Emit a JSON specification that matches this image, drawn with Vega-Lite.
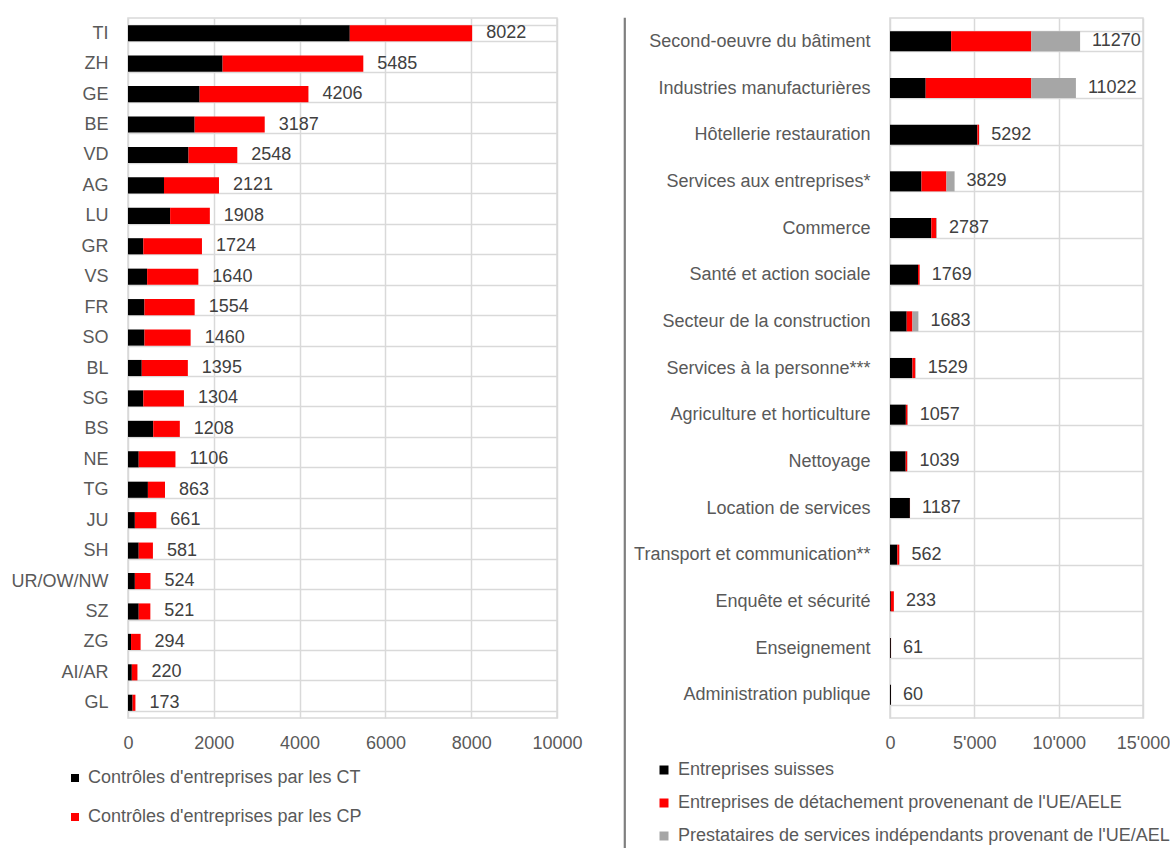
{
  "$schema": "https://vega.github.io/schema/vega-lite/v6.json",
  "padding": {"left": 10, "top": 8, "right": 0, "bottom": 0},
  "background": "white",
  "datasets": {
    "cantons": [
      {"canton": "TI", "type": "Contrôles d'entreprises par les CT", "n": 5170},
      {"canton": "TI", "type": "Contrôles d'entreprises par les CP", "n": 2852},
      {"canton": "ZH", "type": "Contrôles d'entreprises par les CT", "n": 2205},
      {"canton": "ZH", "type": "Contrôles d'entreprises par les CP", "n": 3280},
      {"canton": "GE", "type": "Contrôles d'entreprises par les CT", "n": 1670},
      {"canton": "GE", "type": "Contrôles d'entreprises par les CP", "n": 2536},
      {"canton": "BE", "type": "Contrôles d'entreprises par les CT", "n": 1554},
      {"canton": "BE", "type": "Contrôles d'entreprises par les CP", "n": 1633},
      {"canton": "VD", "type": "Contrôles d'entreprises par les CT", "n": 1411},
      {"canton": "VD", "type": "Contrôles d'entreprises par les CP", "n": 1137},
      {"canton": "AG", "type": "Contrôles d'entreprises par les CT", "n": 839},
      {"canton": "AG", "type": "Contrôles d'entreprises par les CP", "n": 1282},
      {"canton": "LU", "type": "Contrôles d'entreprises par les CT", "n": 982},
      {"canton": "LU", "type": "Contrôles d'entreprises par les CP", "n": 926},
      {"canton": "GR", "type": "Contrôles d'entreprises par les CT", "n": 357},
      {"canton": "GR", "type": "Contrôles d'entreprises par les CP", "n": 1367},
      {"canton": "VS", "type": "Contrôles d'entreprises par les CT", "n": 446},
      {"canton": "VS", "type": "Contrôles d'entreprises par les CP", "n": 1194},
      {"canton": "FR", "type": "Contrôles d'entreprises par les CT", "n": 384},
      {"canton": "FR", "type": "Contrôles d'entreprises par les CP", "n": 1170},
      {"canton": "SO", "type": "Contrôles d'entreprises par les CT", "n": 384},
      {"canton": "SO", "type": "Contrôles d'entreprises par les CP", "n": 1076},
      {"canton": "BL", "type": "Contrôles d'entreprises par les CT", "n": 321},
      {"canton": "BL", "type": "Contrôles d'entreprises par les CP", "n": 1074},
      {"canton": "SG", "type": "Contrôles d'entreprises par les CT", "n": 357},
      {"canton": "SG", "type": "Contrôles d'entreprises par les CP", "n": 947},
      {"canton": "BS", "type": "Contrôles d'entreprises par les CT", "n": 588},
      {"canton": "BS", "type": "Contrôles d'entreprises par les CP", "n": 620},
      {"canton": "NE", "type": "Contrôles d'entreprises par les CT", "n": 250},
      {"canton": "NE", "type": "Contrôles d'entreprises par les CP", "n": 856},
      {"canton": "TG", "type": "Contrôles d'entreprises par les CT", "n": 464},
      {"canton": "TG", "type": "Contrôles d'entreprises par les CP", "n": 399},
      {"canton": "JU", "type": "Contrôles d'entreprises par les CT", "n": 160},
      {"canton": "JU", "type": "Contrôles d'entreprises par les CP", "n": 501},
      {"canton": "SH", "type": "Contrôles d'entreprises par les CT", "n": 250},
      {"canton": "SH", "type": "Contrôles d'entreprises par les CP", "n": 331},
      {"canton": "UR/OW/NW", "type": "Contrôles d'entreprises par les CT", "n": 160},
      {"canton": "UR/OW/NW", "type": "Contrôles d'entreprises par les CP", "n": 364},
      {"canton": "SZ", "type": "Contrôles d'entreprises par les CT", "n": 250},
      {"canton": "SZ", "type": "Contrôles d'entreprises par les CP", "n": 271},
      {"canton": "ZG", "type": "Contrôles d'entreprises par les CT", "n": 71},
      {"canton": "ZG", "type": "Contrôles d'entreprises par les CP", "n": 223},
      {"canton": "AI/AR", "type": "Contrôles d'entreprises par les CT", "n": 89},
      {"canton": "AI/AR", "type": "Contrôles d'entreprises par les CP", "n": 131},
      {"canton": "GL", "type": "Contrôles d'entreprises par les CT", "n": 107},
      {"canton": "GL", "type": "Contrôles d'entreprises par les CP", "n": 66}
    ],
    "branches": [
      {"branche": "Second-oeuvre du bâtiment", "cat": "Entreprises suisses", "v": 3624},
      {"branche": "Second-oeuvre du bâtiment", "cat": "Entreprises de détachement provenenant de l'UE/AELE", "v": 4756},
      {"branche": "Second-oeuvre du bâtiment", "cat": "Prestataires de services indépendants provenant de l'UE/AELE", "v": 2890},
      {"branche": "Industries manufacturières", "cat": "Entreprises suisses", "v": 2116},
      {"branche": "Industries manufacturières", "cat": "Entreprises de détachement provenenant de l'UE/AELE", "v": 6264},
      {"branche": "Industries manufacturières", "cat": "Prestataires de services indépendants provenant de l'UE/AELE", "v": 2642},
      {"branche": "Hôtellerie restauration", "cat": "Entreprises suisses", "v": 5180},
      {"branche": "Hôtellerie restauration", "cat": "Entreprises de détachement provenenant de l'UE/AELE", "v": 100},
      {"branche": "Hôtellerie restauration", "cat": "Prestataires de services indépendants provenant de l'UE/AELE", "v": 12},
      {"branche": "Services aux entreprises*", "cat": "Entreprises suisses", "v": 1865},
      {"branche": "Services aux entreprises*", "cat": "Entreprises de détachement provenenant de l'UE/AELE", "v": 1480},
      {"branche": "Services aux entreprises*", "cat": "Prestataires de services indépendants provenant de l'UE/AELE", "v": 484},
      {"branche": "Commerce", "cat": "Entreprises suisses", "v": 2450},
      {"branche": "Commerce", "cat": "Entreprises de détachement provenenant de l'UE/AELE", "v": 300},
      {"branche": "Commerce", "cat": "Prestataires de services indépendants provenant de l'UE/AELE", "v": 37},
      {"branche": "Santé et action sociale", "cat": "Entreprises suisses", "v": 1660},
      {"branche": "Santé et action sociale", "cat": "Entreprises de détachement provenenant de l'UE/AELE", "v": 100},
      {"branche": "Santé et action sociale", "cat": "Prestataires de services indépendants provenant de l'UE/AELE", "v": 9},
      {"branche": "Secteur de la construction", "cat": "Entreprises suisses", "v": 990},
      {"branche": "Secteur de la construction", "cat": "Entreprises de détachement provenenant de l'UE/AELE", "v": 340},
      {"branche": "Secteur de la construction", "cat": "Prestataires de services indépendants provenant de l'UE/AELE", "v": 353},
      {"branche": "Services à la personne***", "cat": "Entreprises suisses", "v": 1330},
      {"branche": "Services à la personne***", "cat": "Entreprises de détachement provenenant de l'UE/AELE", "v": 170},
      {"branche": "Services à la personne***", "cat": "Prestataires de services indépendants provenant de l'UE/AELE", "v": 29},
      {"branche": "Agriculture et horticulture", "cat": "Entreprises suisses", "v": 940},
      {"branche": "Agriculture et horticulture", "cat": "Entreprises de détachement provenenant de l'UE/AELE", "v": 100},
      {"branche": "Agriculture et horticulture", "cat": "Prestataires de services indépendants provenant de l'UE/AELE", "v": 17},
      {"branche": "Nettoyage", "cat": "Entreprises suisses", "v": 930},
      {"branche": "Nettoyage", "cat": "Entreprises de détachement provenenant de l'UE/AELE", "v": 90},
      {"branche": "Nettoyage", "cat": "Prestataires de services indépendants provenant de l'UE/AELE", "v": 19},
      {"branche": "Location de services", "cat": "Entreprises suisses", "v": 1180},
      {"branche": "Location de services", "cat": "Entreprises de détachement provenenant de l'UE/AELE", "v": 7},
      {"branche": "Location de services", "cat": "Prestataires de services indépendants provenant de l'UE/AELE", "v": 0},
      {"branche": "Transport et communication**", "cat": "Entreprises suisses", "v": 430},
      {"branche": "Transport et communication**", "cat": "Entreprises de détachement provenenant de l'UE/AELE", "v": 120},
      {"branche": "Transport et communication**", "cat": "Prestataires de services indépendants provenant de l'UE/AELE", "v": 12},
      {"branche": "Enquête et sécurité", "cat": "Entreprises suisses", "v": 50},
      {"branche": "Enquête et sécurité", "cat": "Entreprises de détachement provenenant de l'UE/AELE", "v": 180},
      {"branche": "Enquête et sécurité", "cat": "Prestataires de services indépendants provenant de l'UE/AELE", "v": 3},
      {"branche": "Enseignement", "cat": "Entreprises suisses", "v": 55},
      {"branche": "Enseignement", "cat": "Entreprises de détachement provenenant de l'UE/AELE", "v": 6},
      {"branche": "Enseignement", "cat": "Prestataires de services indépendants provenant de l'UE/AELE", "v": 0},
      {"branche": "Administration publique", "cat": "Entreprises suisses", "v": 58},
      {"branche": "Administration publique", "cat": "Entreprises de détachement provenenant de l'UE/AELE", "v": 2},
      {"branche": "Administration publique", "cat": "Prestataires de services indépendants provenant de l'UE/AELE", "v": 0}
    ]
  },
  "hconcat": [
    {
      "width": 429,
      "height": 700,
      "data": {"name": "cantons"},
      "layer": [
        {
          "mark": {"type": "bar"},
          "encoding": {
            "y": {"field": "canton", "type": "nominal", "title": null,
              "sort": ["TI","ZH","GE","BE","VD","AG","LU","GR","VS","FR","SO","BL","SG","BS","NE","TG","JU","SH","UR/OW/NW","SZ","ZG","AI/AR","GL"],
              "scale": {"paddingInner": 0.47, "paddingOuter": 0.235},
              "axis": {"tickBand": "extent", "grid": true, "labelPadding": 20, "labelLimit": 400}},
            "x": {"field": "n", "type": "quantitative", "stack": "zero", "title": null,
              "scale": {"domain": [0, 10000], "nice": false},
              "axis": {"values": [0, 2000, 4000, 6000, 8000, 10000], "format": "d", "grid": true, "labelPadding": 16, "labelFlush": false}},
            "color": {"field": "type", "type": "nominal",
              "scale": {"domain": ["Contrôles d'entreprises par les CT", "Contrôles d'entreprises par les CP"], "range": ["#000000", "#ff0000"]},
              "legend": {"orient": "none", "legendX": -62, "legendY": 751, "direction": "vertical", "title": null,
                "symbolType": "square", "symbolSize": 64, "symbolStrokeWidth": 0, "labelOffset": 4, "rowPadding": 21,
                "labelFontSize": 18, "labelColor": "#595959", "labelLimit": 500, "padding": 0}},
            "order": {"field": "type", "sort": "descending"}
          }
        },
        {
          "transform": [{"aggregate": [{"op": "sum", "field": "n", "as": "total"}], "groupby": ["canton"]}],
          "mark": {"type": "text", "align": "left", "baseline": "middle", "dx": 14, "fontSize": 18, "color": "#404040"},
          "encoding": {
            "y": {"field": "canton", "type": "nominal",
              "sort": ["TI","ZH","GE","BE","VD","AG","LU","GR","VS","FR","SO","BL","SG","BS","NE","TG","JU","SH","UR/OW/NW","SZ","ZG","AI/AR","GL"]},
            "x": {"field": "total", "type": "quantitative"},
            "text": {"field": "total", "type": "quantitative", "format": "d"}
          }
        }
      ]
    },
    {
      "spacing": 6,
      "resolve": {"scale": {"color": "independent", "x": "independent", "y": "independent"}, "legend": {"color": "independent"}},
      "hconcat": [
        {
          "width": 1,
          "height": 840,
          "data": {"values": []},
          "mark": {"type": "rule"},
          "encoding": {},
          "view": {"stroke": "#7f7f7f", "strokeWidth": 1.2}
        },
        {
          "width": 253,
          "height": 700,
          "data": {"name": "branches"},
          "layer": [
            {
              "transform": [{"calculate": "datum.cat == 'Entreprises suisses' ? 0 : (indexof(datum.cat, 'détachement') >= 0 ? 1 : 2)", "as": "k"}],
              "mark": {"type": "bar"},
              "encoding": {
                "y": {"field": "branche", "type": "nominal", "title": null,
                  "sort": ["Second-oeuvre du bâtiment","Industries manufacturières","Hôtellerie restauration","Services aux entreprises*","Commerce","Santé et action sociale","Secteur de la construction","Services à la personne***","Agriculture et horticulture","Nettoyage","Location de services","Transport et communication**","Enquête et sécurité","Enseignement","Administration publique"],
                  "scale": {"paddingInner": 0.57, "paddingOuter": 0.285},
                  "axis": {"tickBand": "extent", "grid": true, "labelPadding": 20, "labelLimit": 400}},
                "x": {"field": "v", "type": "quantitative", "stack": "zero", "title": null,
                  "scale": {"domain": [0, 15000], "nice": false},
                  "axis": {"values": [0, 5000, 10000, 15000], "grid": true, "labelPadding": 16, "labelFlush": false,
                    "labelExpr": "replace(format(datum.value, ','), ',', \"'\")"}},
                "color": {"field": "cat", "type": "nominal",
                  "scale": {"domain": ["Entreprises suisses", "Entreprises de détachement provenenant de l'UE/AELE", "Prestataires de services indépendants provenant de l'UE/AELE"], "range": ["#000000", "#ff0000", "#a6a6a6"]},
                  "legend": {"orient": "none", "legendX": -235, "legendY": 743, "direction": "vertical", "title": null,
                    "symbolType": "square", "symbolSize": 81, "symbolStrokeWidth": 0, "labelOffset": 5, "rowPadding": 15,
                    "labelFontSize": 18, "labelColor": "#595959", "labelLimit": 800, "padding": 0}},
                "order": {"field": "k", "type": "quantitative", "sort": "ascending"}
              }
            },
            {
              "transform": [{"aggregate": [{"op": "sum", "field": "v", "as": "total"}], "groupby": ["branche"]}],
              "mark": {"type": "text", "align": "left", "baseline": "middle", "dx": 12, "fontSize": 18, "color": "#404040"},
              "encoding": {
                "y": {"field": "branche", "type": "nominal",
                  "sort": ["Second-oeuvre du bâtiment","Industries manufacturières","Hôtellerie restauration","Services aux entreprises*","Commerce","Santé et action sociale","Secteur de la construction","Services à la personne***","Agriculture et horticulture","Nettoyage","Location de services","Transport et communication**","Enquête et sécurité","Enseignement","Administration publique"]},
                "x": {"field": "total", "type": "quantitative"},
                "text": {"field": "total", "type": "quantitative", "format": "d"}
              }
            }
          ]
        }
      ]
    }
  ],
  "spacing": 40,
  "resolve": {"scale": {"color": "independent", "x": "independent", "y": "independent"}, "legend": {"color": "independent"}},
  "config": {
    "font": "Liberation Sans",
    "view": {"stroke": "#d9d9d9", "strokeWidth": 1.5},
    "axis": {"labelFont": "Liberation Sans", "labelFontSize": 18, "labelColor": "#595959", "ticks": false, "domain": false, "gridColor": "#d9d9d9", "gridWidth": 1.5},
    "legend": {"labelFont": "Liberation Sans"},
    "text": {"font": "Liberation Sans"}
  }
}
